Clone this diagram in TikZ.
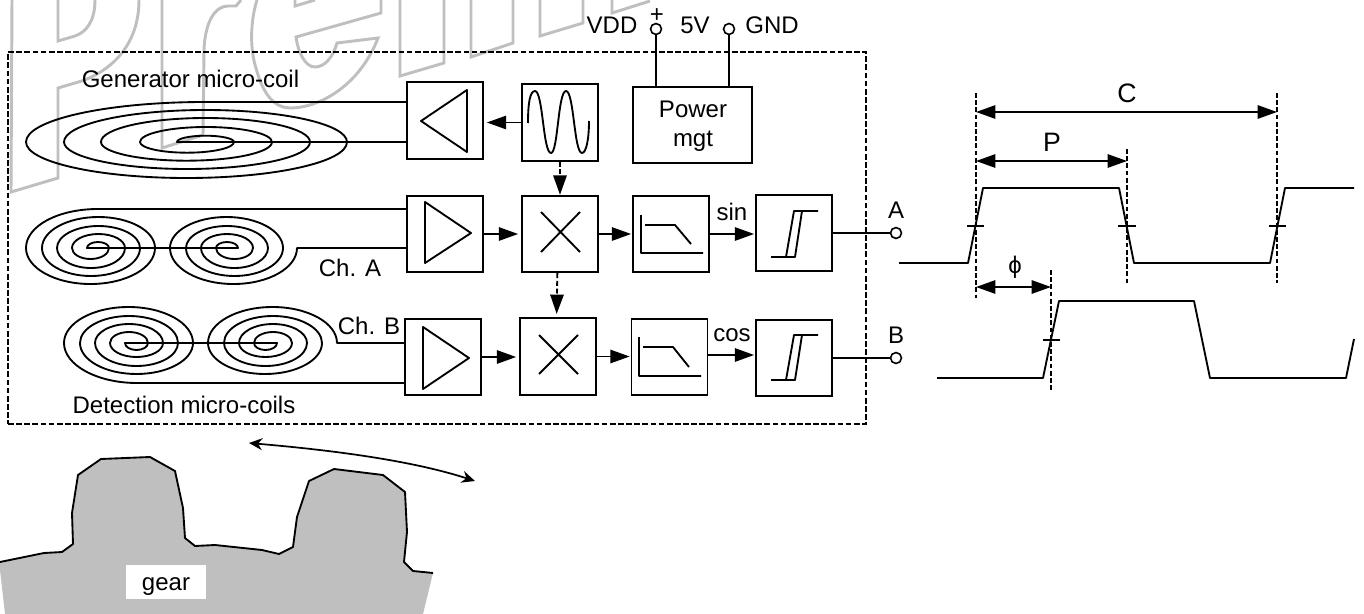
\documentclass[tikz,border=0pt]{standalone}
\usepackage{fontspec}
\setmainfont{Liberation Sans}
\usetikzlibrary{arrows.meta}
\newcommand{\HA}[4]{.. controls (#1,{#4+.5523*(#3-#4)}) and ({#1+.2239*(#2-#1)},#3) .. ({(#1+#2)/2},#3) .. controls ({#2-.2239*(#2-#1)},#3) and (#2,{#4+.5523*(#3-#4)}) .. (#2,#4)}
\tikzset{
  wire/.style={line width=1.4pt,line join=round},
  blockbox/.style={draw,line width=1.35pt,minimum width=57pt,minimum height=57.5pt,inner sep=0pt},
  pow/.style={blockbox,minimum width=89pt,align=center},
  term/.style={circle,draw,line width=1.2pt,fill=white,minimum size=8.2pt,inner sep=0pt},
  lab/.style={anchor=base,inner sep=0pt,font=\fontsize{18}{20}\selectfont},
  biglab/.style={anchor=base,inner sep=0pt,font=\fontsize{20}{22}\selectfont},
  flow/.style={wire,-{Triangle[length=14.5pt,width=10pt]}},
  flowd/.style={flow,dash pattern=on 3.6pt off 2.2pt},
  dim/.style={line width=1.3pt,{Triangle[length=14.5pt,width=10pt]}-{Triangle[length=14.5pt,width=10pt]}},
  guide/.style={line width=1pt,dash pattern=on 3.6pt off 1.8pt},
  frameline/.style={line width=1.25pt,dash pattern=on 4.3pt off 1.8pt},
  tickline/.style={line width=1.2pt},
  wm/.style={draw=black!25,line width=2.2pt,line join=miter}
}
\begin{document}
\begin{tikzpicture}[x=.75pt,y=-.75pt]
\useasboundingbox (0,0) rectangle (1364,614);
% watermark outline
\draw[wm] (12,0) -- (11,192) -- (58,178) -- (58,88) -- (75,83) .. controls (105,75) and (139,50) .. (139,0);
\draw[wm] (58,0) -- (58,41) -- (75,36) .. controls (87,32) and (95,20) .. (95,0);
\draw[wm] (162,0) -- (162,148) -- (203,135) -- (204,50) .. controls (205,22) and (215,6) .. (228,6) -- (236,6) -- (241,0);
\draw[wm] (257,0) .. controls (250,22) and (250,50) .. (256,68) .. controls (263,95) and (275,108) .. (290,108) .. controls (320,108) and (360,85) .. (378,38) -- (337,43) .. controls (333,57) and (325,67) .. (315,67) .. controls (305,67) and (298,52) .. (296,37) -- (381,13) -- (381,0);
\draw[wm] (295,0) -- (295,6) -- (315,0);
\draw[wm] (400,0) -- (400,76) -- (444,63) -- (444,0);
\draw[wm] (471,0) -- (471,57) -- (513,43) -- (513,0);
\draw[wm] (540,0) -- (540,36) -- (583,23) -- (583,0);
\draw[wm] (612,0) -- (612,13) -- (650,1);
% gear
\fill[black!25] (0,562) -- (44,553) -- (62,552) -- (73,544) -- (72,513) -- (78,475) -- (101,459) -- (150,457) -- (175,471) -- (183,508) -- (185,538) -- (195,546) -- (215,545) -- (262,550) -- (279,554) -- (293,547) -- (297,517) -- (309,481) -- (334,469) -- (383,475) -- (405,492) -- (407,532) -- (404,562) -- (413,571) -- (433,573) -- (423,614) -- (5,614) -- (0,570) -- cycle;
\draw[wire] (0,562) -- (44,553) -- (62,552) -- (73,544) -- (72,513) -- (78,475) -- (101,459) -- (150,457) -- (175,471) -- (183,508) -- (185,538) -- (195,546) -- (215,545) -- (262,550) -- (279,554) -- (293,547) -- (297,517) -- (309,481) -- (334,469) -- (383,475) -- (405,492) -- (407,532) -- (404,562) -- (413,571) -- (433,573);
\node[fill=white,minimum width=60pt,minimum height=25.5pt,inner sep=0pt] (gearbox) at (166,582) {};
\node[lab] (gearlab) at (166,590) {gear};
\coordinate (rotL) at (249,443);
\coordinate (rotR) at (475,481);
\draw[line width=1.3pt,{Stealth[length=10pt,width=9pt]}-{Stealth[length=10pt,width=9pt]}] (rotL) .. controls (330,450) and (410,460) .. (rotR);
% frame
\node[draw,frameline,minimum width=643.5pt,minimum height=279pt,inner sep=0pt] (frame) at (437,238) {};
% boxes
\node[blockbox] (ampG) at (445,120.5) {};
\node[blockbox] (osc) at (560,122.5) {};
\node[pow] (pwr) at (692.5,125) {};
\node[lab] (pwrA) at (693,117) {Power};
\node[lab] (pwrB) at (693,146) {mgt};
\node[blockbox] (ampA) at (445,234) {};
\node[blockbox] (mixA) at (560,234) {};
\node[blockbox] (filA) at (671,234) {};
\node[blockbox] (cmpA) at (794,233) {};
\node[blockbox] (ampB) at (443,357) {};
\node[blockbox] (mixB) at (558,356.5) {};
\node[blockbox] (filB) at (669.5,357) {};
\node[blockbox] (cmpB) at (794,358) {};
% glyphs in boxes
\draw[wire] (421,121) -- (467,90) -- (467,152) -- cycle;
\draw[wire] (425,202) -- (471,233) -- (425,263) -- cycle;
\draw[wire] (423,327) -- (469,358) -- (423,389) -- cycle;
\draw[wire] (528,123) .. controls (528,103) and (530,91) .. (535,91) .. controls (543,91) and (543,153) .. (551,153) .. controls (558,153) and (558,91) .. (566,91) .. controls (574,91) and (574,153) .. (582,153) .. controls (586,153) and (589,140) .. (589,121);
\draw[wire] (541,212) -- (580,252) (580,212) -- (541,252);
\draw[wire] (539,335) -- (578,374) (578,335) -- (539,374);
\draw[wire] (641,215) -- (641,253) -- (703,253) (645,225) -- (675,225) -- (691,244);
\draw[wire] (639,337) -- (639,376) -- (701,376) (643,347) -- (673,347) -- (689,367);
\draw[wire] (771,257) -- (795,257) -- (802,211) -- (818,211) (786,257) -- (794,211) -- (802,211);
\draw[wire] (771,380) -- (795,380) -- (802,335) -- (818,335) (786,380) -- (794,335) -- (802,335);
% supply
\node[term] (vdd) at (656,29) {};
\node[term] (gnd) at (729,29) {};
\draw[wire] (vdd) -- (vdd |- pwr.north);
\draw[wire] (gnd) -- (gnd |- pwr.north);
\node[lab] (plus) at (657,22.5) {+};
\node[lab] (vddl) at (612,33) {VDD};
\node[lab] (fivev) at (695,33) {5V};
\node[lab] (gndl) at (772,33) {GND};
% signal path
\draw[flow,shorten >=2.2pt] (osc.west) -- (osc.west -| ampG.east);
\draw[flowd] (osc.south) -- (mixA.north);
\draw[flowd] ([xshift=-2pt]mixA.south) -- ([xshift=-1pt,yshift=2.5pt]mixB.north);
\draw[flow,shorten >=2.2pt] (ampA.east) -- (mixA.west);
\draw[flow,shorten >=.7pt] (mixA.east) -- (filA.west);
\draw[flow,shorten >=.7pt] (filA.east) -- (filA.east -| cmpA.west);
\draw[flow,shorten >=2.2pt] (ampB.east) -- (ampB.east -| mixB.west);
\draw[flow,shorten >=.7pt] (mixB.east) -- (mixB.east -| filB.west);
\draw[flow,shorten >=.7pt] ([yshift=1.5pt]filB.east) -- ([yshift=1.5pt]filB.east -| cmpB.west);
\node[term] (outA) at (896,233) {};
\node[term] (outB) at (896,358) {};
\draw[wire] (cmpA.east) -- (outA);
\draw[wire] (cmpB.east) -- (outB);
\node[lab] (la) at (896,218) {A};
\node[lab] (lb) at (896,343) {B};
\node[lab] (sinl) at (732,220) {sin};
\node[lab] (cosl) at (732,341) {cos};
% coils
\coordinate (gs) at (205,102);
\coordinate (ge) at (177,142);
\draw[wire] (ampG.west |- gs) -- (gs) .. controls (106,102) and (26,120) .. (26,142)
  \HA{26}{347}{178}{142} \HA{347}{64}{110}{142} \HA{64}{310}{169}{142} \HA{310}{101}{118}{142}
  \HA{101}{272}{160.7}{142} \HA{272}{140}{127}{142} \HA{140}{234}{152.7}{142} \HA{234}{177}{135.7}{142}
  -- (ampG.west |- ge);
\coordinate (as) at (98,209);
\coordinate (ae) at (297,248);
\draw[wire] (ampA.west |- as) -- (as) .. controls (58,209) and (26,226) .. (26,248)
  \HA{26}{155}{284}{248} \HA{155}{42}{217}{248} \HA{42}{140}{276}{248} \HA{140}{57}{226}{248}
  \HA{57}{125}{268}{248} \HA{125}{72}{234}{248} \HA{72}{109}{259}{248} \HA{109}{87}{242}{248}
  -- (238,248)
  \HA{238}{216}{242}{248} \HA{216}{253}{259}{248} \HA{253}{201}{234}{248} \HA{201}{268}{268}{248}
  \HA{268}{186}{226}{248} \HA{186}{283}{276}{248} \HA{283}{170}{217}{248} \HA{170}{297}{284}{248}
  -- (ampA.west |- ae);
\coordinate (bs) at (137,383);
\coordinate (be) at (337,343);
\draw[wire] (ampB.west |- bs) -- (bs) .. controls (97,383) and (64,365) .. (64,343)
  \HA{64}{193}{307}{343} \HA{193}{80}{374}{343} \HA{80}{178}{316}{343} \HA{178}{95}{366}{343}
  \HA{95}{163}{324}{343} \HA{163}{110}{357}{343} \HA{110}{148}{332}{343} \HA{148}{125}{350}{343}
  -- (277,343)
  \HA{277}{254}{350}{343} \HA{254}{292}{332}{343} \HA{292}{239}{357}{343} \HA{239}{307}{324}{343}
  \HA{307}{224}{366}{343} \HA{224}{322}{316}{343} \HA{322}{208}{374}{343} \HA{208}{337}{307}{343}
  -- (ampB.west |- be);
\node[lab] (gen) at (190.5,87) {Generator micro-coil};
\node[lab] (cha) at (350,276) {Ch. A};
\node[lab] (chb) at (369,334) {Ch. B};
\node[lab] (det) at (184,413) {Detection micro-coils};
% timing
\draw[wire] (899,263) -- (968,263) -- (983,188) -- (1119,188) -- (1134,263) -- (1270,263) -- (1285,188) -- (1354,188);
\draw[wire] (937,378) -- (1043,378) -- (1059,301) -- (1194,301) -- (1210,378) -- (1346,378) -- (1354,339);
\draw[tickline] (967,226) -- (984,226) (1118,226) -- (1136,226) (1269,226) -- (1286,226) (1043,340) -- (1060,340);
\coordinate (g1t) at (976,93);
\coordinate (g1b) at (976,298);
\coordinate (g2t) at (1127,149);
\coordinate (g2b) at (1127,283);
\coordinate (g3t) at (1277,93);
\coordinate (g3b) at (1277,283);
\coordinate (g4t) at (1051,270);
\coordinate (g4b) at (1051,392);
\draw[guide] (g1t) -- (g1b);
\draw[guide] (g2t) -- (g2b);
\draw[guide] (g3t) -- (g3b);
\draw[guide] (g4t) -- (g4b);
\coordinate (cy) at (0,112);
\coordinate (py) at (0,161);
\coordinate (fy) at (0,287);
\draw[dim] (g1t |- cy) -- (g3t |- cy);
\draw[dim] (g1t |- py) -- (g2t |- py);
\draw[dim] (g1t |- fy) -- (g4t |- fy);
\node[biglab] (cl) at (1127,102) {C};
\node[biglab] (pl) at (1052,151) {P};
\node[lab] (phil) at (1015,273) {ϕ};
\end{tikzpicture}
\end{document}
